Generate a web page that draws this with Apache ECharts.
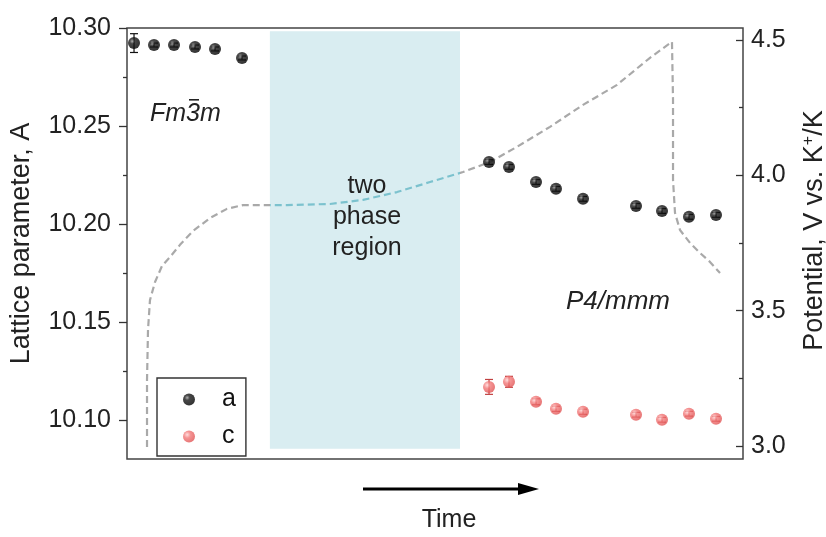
<!DOCTYPE html>
<html><head><meta charset="utf-8">
<script src="https://cdn.jsdelivr.net/npm/echarts@6/dist/echarts.min.js"></script>
<style>html,body{margin:0;padding:0;background:#fff}#c{width:826px;height:537px}</style>
</head><body><div id="c"></div>
<script>
// ---- data (time in arbitrary units 0..100) ----
const timeA = [1.14, 4.38, 7.63, 11.04, 14.29, 18.67, 58.77, 62.01, 66.40, 69.64, 74.03, 82.63, 86.85, 91.23, 95.62];
const latticeA = [10.2923, 10.2913, 10.2913, 10.2903, 10.2893, 10.2847, 10.2316, 10.2291, 10.2214, 10.2179, 10.2128, 10.2092, 10.2066, 10.2036, 10.2046];
const errA = [0.0048, 0.0010, 0.0010, 0.0010, 0.0010, 0.0010, 0.0012, 0.0012, 0.0012, 0.0012, 0.0012, 0.0012, 0.0012, 0.0012, 0.0012];
const timeC = [58.77, 62.01, 66.40, 69.64, 74.03, 82.63, 86.85, 91.23, 95.62];
const latticeC = [10.1168, 10.1194, 10.1092, 10.1056, 10.1041, 10.1026, 10.1000, 10.1031, 10.1005];
const errC = [0.0038, 0.0028, 0.0015, 0.0013, 0.0013, 0.0012, 0.0012, 0.0012, 0.0012];
const potTime = [3.25, 3.25, 3.41, 3.73, 4.55, 5.68, 6.98, 8.60, 10.71, 13.47, 16.23, 18.83, 25.97, 32.95, 38.31, 43.83, 49.19, 54.55, 58.93, 63.31, 68.67, 74.03, 79.55, 84.90, 88.47, 88.64, 88.64, 88.96, 89.77, 91.40, 93.02, 94.64, 96.27];
const potValue = [2.996, 3.244, 3.429, 3.539, 3.606, 3.665, 3.698, 3.743, 3.794, 3.842, 3.876, 3.890, 3.890, 3.894, 3.909, 3.938, 3.975, 4.012, 4.049, 4.105, 4.179, 4.260, 4.334, 4.434, 4.493, 4.278, 3.983, 3.861, 3.798, 3.750, 3.713, 3.680, 3.639];
const twoPhase = [23.2, 54.06];          // time range of the two phase region
const twoPhasePotential = [2.99, 4.532]; // vertical extent of the shading (right axis)
const leftTicks = [10.10, 10.15, 10.20, 10.25, 10.30];
const leftMinor = [10.125, 10.175, 10.225, 10.275];
const rightTicks = [3.0, 3.5, 4.0, 4.5];
const rightMinor = [3.25, 3.75, 4.25];

const FONT = '"Liberation Sans", Arial, sans-serif';
const chart = echarts.init(document.getElementById('c'), null, {renderer: 'canvas'});

const blackBall = {type: 'radial', x: 0.35, y: 0.35, r: 0.7, colorStops: [
  {offset: 0, color: '#9a9a9a'}, {offset: 0.3, color: '#1a1a1a'}, {offset: 1, color: '#000'}]};
const redBall = {type: 'radial', x: 0.35, y: 0.35, r: 0.7, colorStops: [
  {offset: 0, color: '#ffd4d4'}, {offset: 0.4, color: '#f27878'}, {offset: 1, color: '#e05252'}]};

function errRender(color) {
  return function (params, api) {
    const x = api.value(0), y = api.value(1), e = api.value(2);
    const lo = api.coord([x, y - e]), hi = api.coord([x, y + e]);
    const w = 4;
    const st = {stroke: color, lineWidth: 1.2};
    return {type: 'group', children: [
      {type: 'line', shape: {x1: lo[0], y1: lo[1], x2: hi[0], y2: hi[1]}, style: st},
      {type: 'line', shape: {x1: lo[0] - w, y1: lo[1], x2: lo[0] + w, y2: lo[1]}, style: st},
      {type: 'line', shape: {x1: hi[0] - w, y1: hi[1], x2: hi[0] + w, y2: hi[1]}, style: st}
    ]};
  };
}

const labelStyle = {fontSize: 25, color: '#222', fontFamily: FONT};
const nameStyle = {fontSize: 27, color: '#222', fontFamily: FONT};

const option = {
  animation: false,
  backgroundColor: '#fff',
  grid: {left: 127, right: 83, top: 28, bottom: 78, show: true, borderColor: '#444', borderWidth: 1.5,
    backgroundColor: 'transparent', outerBoundsMode: 'none', containLabel: false},
  xAxis: {type: 'value', min: 0, max: 100, axisLine: {show: false}, axisTick: {show: false}, axisLabel: {show: false}, splitLine: {show: false}},
  yAxis: [
    {type: 'value', position: 'left', min: 10.08, max: 10.30, splitLine: {show: false},
      axisLine: {show: false},
      axisTick: {show: true, customValues: leftTicks, length: 8, lineStyle: {color: '#333', width: 1.3}},
      axisLabel: {customValues: leftTicks, formatter: v => v.toFixed(2), margin: 16, ...labelStyle},
      name: 'Lattice parameter, A', nameLocation: 'middle', nameRotate: 90, nameGap: 92, nameTextStyle: nameStyle},
    {type: 'value', position: 'right', min: 2.952, max: 4.544, splitLine: {show: false},
      axisLine: {show: false},
      axisTick: {show: true, inside: true, customValues: rightTicks, length: 7, lineStyle: {color: '#333', width: 1.3}},
      axisLabel: {customValues: rightTicks, formatter: v => v.toFixed(1), margin: 8, ...labelStyle},
      name: 'Potential, V vs. K{sup|+}/K', nameLocation: 'middle', nameRotate: 90, nameGap: 58,
      nameTextStyle: {...nameStyle, padding: [0, 0, 0, 26],
        rich: {sup: {fontSize: 16, verticalAlign: 'top', padding: [0, 0, 12, 0], fontFamily: FONT, color: '#222'}}}},
    {type: 'value', position: 'left', min: 10.08, max: 10.30, splitLine: {show: false},
      axisLine: {show: false},
      axisTick: {show: true, customValues: leftMinor, length: 4, lineStyle: {color: '#333', width: 1.3}},
      axisLabel: {show: false}},
    {type: 'value', position: 'right', min: 2.952, max: 4.544, splitLine: {show: false},
      axisLine: {show: false},
      axisTick: {show: true, inside: true, customValues: rightMinor, length: 4, lineStyle: {color: '#333', width: 1.3}},
      axisLabel: {show: false}}
  ],
  visualMap: {show: false, type: 'piecewise', seriesIndex: 0, dimension: 0,
    pieces: [{lt: twoPhase[0], color: '#a9a9a9'}, {gte: twoPhase[0], lte: twoPhase[1], color: '#7cc2ce'}, {gt: twoPhase[1], color: '#a9a9a9'}]},
  legend: {data: ['a', 'c'], orient: 'vertical', left: 157, top: 378, icon: 'circle',
    itemWidth: 12, itemHeight: 12, itemGap: 12, padding: [9, 10, 7, 26],
    borderColor: '#333', borderWidth: 1.4, backgroundColor: '#fff',
    textStyle: {fontSize: 25, color: '#111', fontFamily: FONT, padding: [0, 0, 0, 22]}},
  series: [
    {name: 'potential', type: 'line', yAxisIndex: 1, z: 1, showSymbol: false, symbol: 'none',
      data: potTime.map((t, i) => [t, potValue[i]]),
      lineStyle: {width: 2.2, type: [7, 4]},
      markArea: {silent: true, z: 0, itemStyle: {color: 'rgba(185,223,229,0.55)'},
        data: [[{xAxis: twoPhase[0], yAxis: twoPhasePotential[0]}, {xAxis: twoPhase[1], yAxis: twoPhasePotential[1]}]]}},
    {name: 'errA', type: 'custom', yAxisIndex: 0, z: 3, renderItem: errRender('#111'),
      data: timeA.map((t, i) => [t, latticeA[i], errA[i]])},
    {name: 'errC', type: 'custom', yAxisIndex: 0, z: 3, renderItem: errRender('#c04040'),
      data: timeC.map((t, i) => [t, latticeC[i], errC[i]])},
    {name: 'a', type: 'scatter', yAxisIndex: 0, z: 4, symbolSize: 12,
      data: timeA.map((t, i) => [t, latticeA[i]]), itemStyle: {color: blackBall}},
    {name: 'c', type: 'scatter', yAxisIndex: 0, z: 4, symbolSize: 12,
      data: timeC.map((t, i) => [t, latticeC[i]]), itemStyle: {color: redBall}}
  ],
  graphic: [
    {type: 'text', left: 150, top: 102, z: 10, style: {text: 'Fm3m', font: 'italic 25px ' + FONT, fill: '#222'}},
    {type: 'rect', z: 11, shape: {x: 189, y: 99, width: 10, height: 1.6}, style: {fill: '#222'}},
    {type: 'text', left: 566, top: 289, z: 10, style: {text: 'P4/mmm', font: 'italic 26px ' + FONT, fill: '#222'}},
    {type: 'text', x: 367, y: 171, z: 10, style: {text: 'two\nphase\nregion', font: '25px ' + FONT, fill: '#222', align: 'center', lineHeight: 31}},
    {type: 'text', x: 449, y: 508, z: 10, style: {text: 'Time', font: '25px ' + FONT, fill: '#222', align: 'center'}},
    {type: 'line', z: 10, shape: {x1: 363, y1: 489, x2: 524, y2: 489}, style: {stroke: '#000', lineWidth: 3.2}},
    {type: 'polygon', z: 10, shape: {points: [[518, 483], [539, 489], [518, 495]]}, style: {fill: '#000'}}
  ]
};
chart.setOption(option);
</script>
</body></html>
